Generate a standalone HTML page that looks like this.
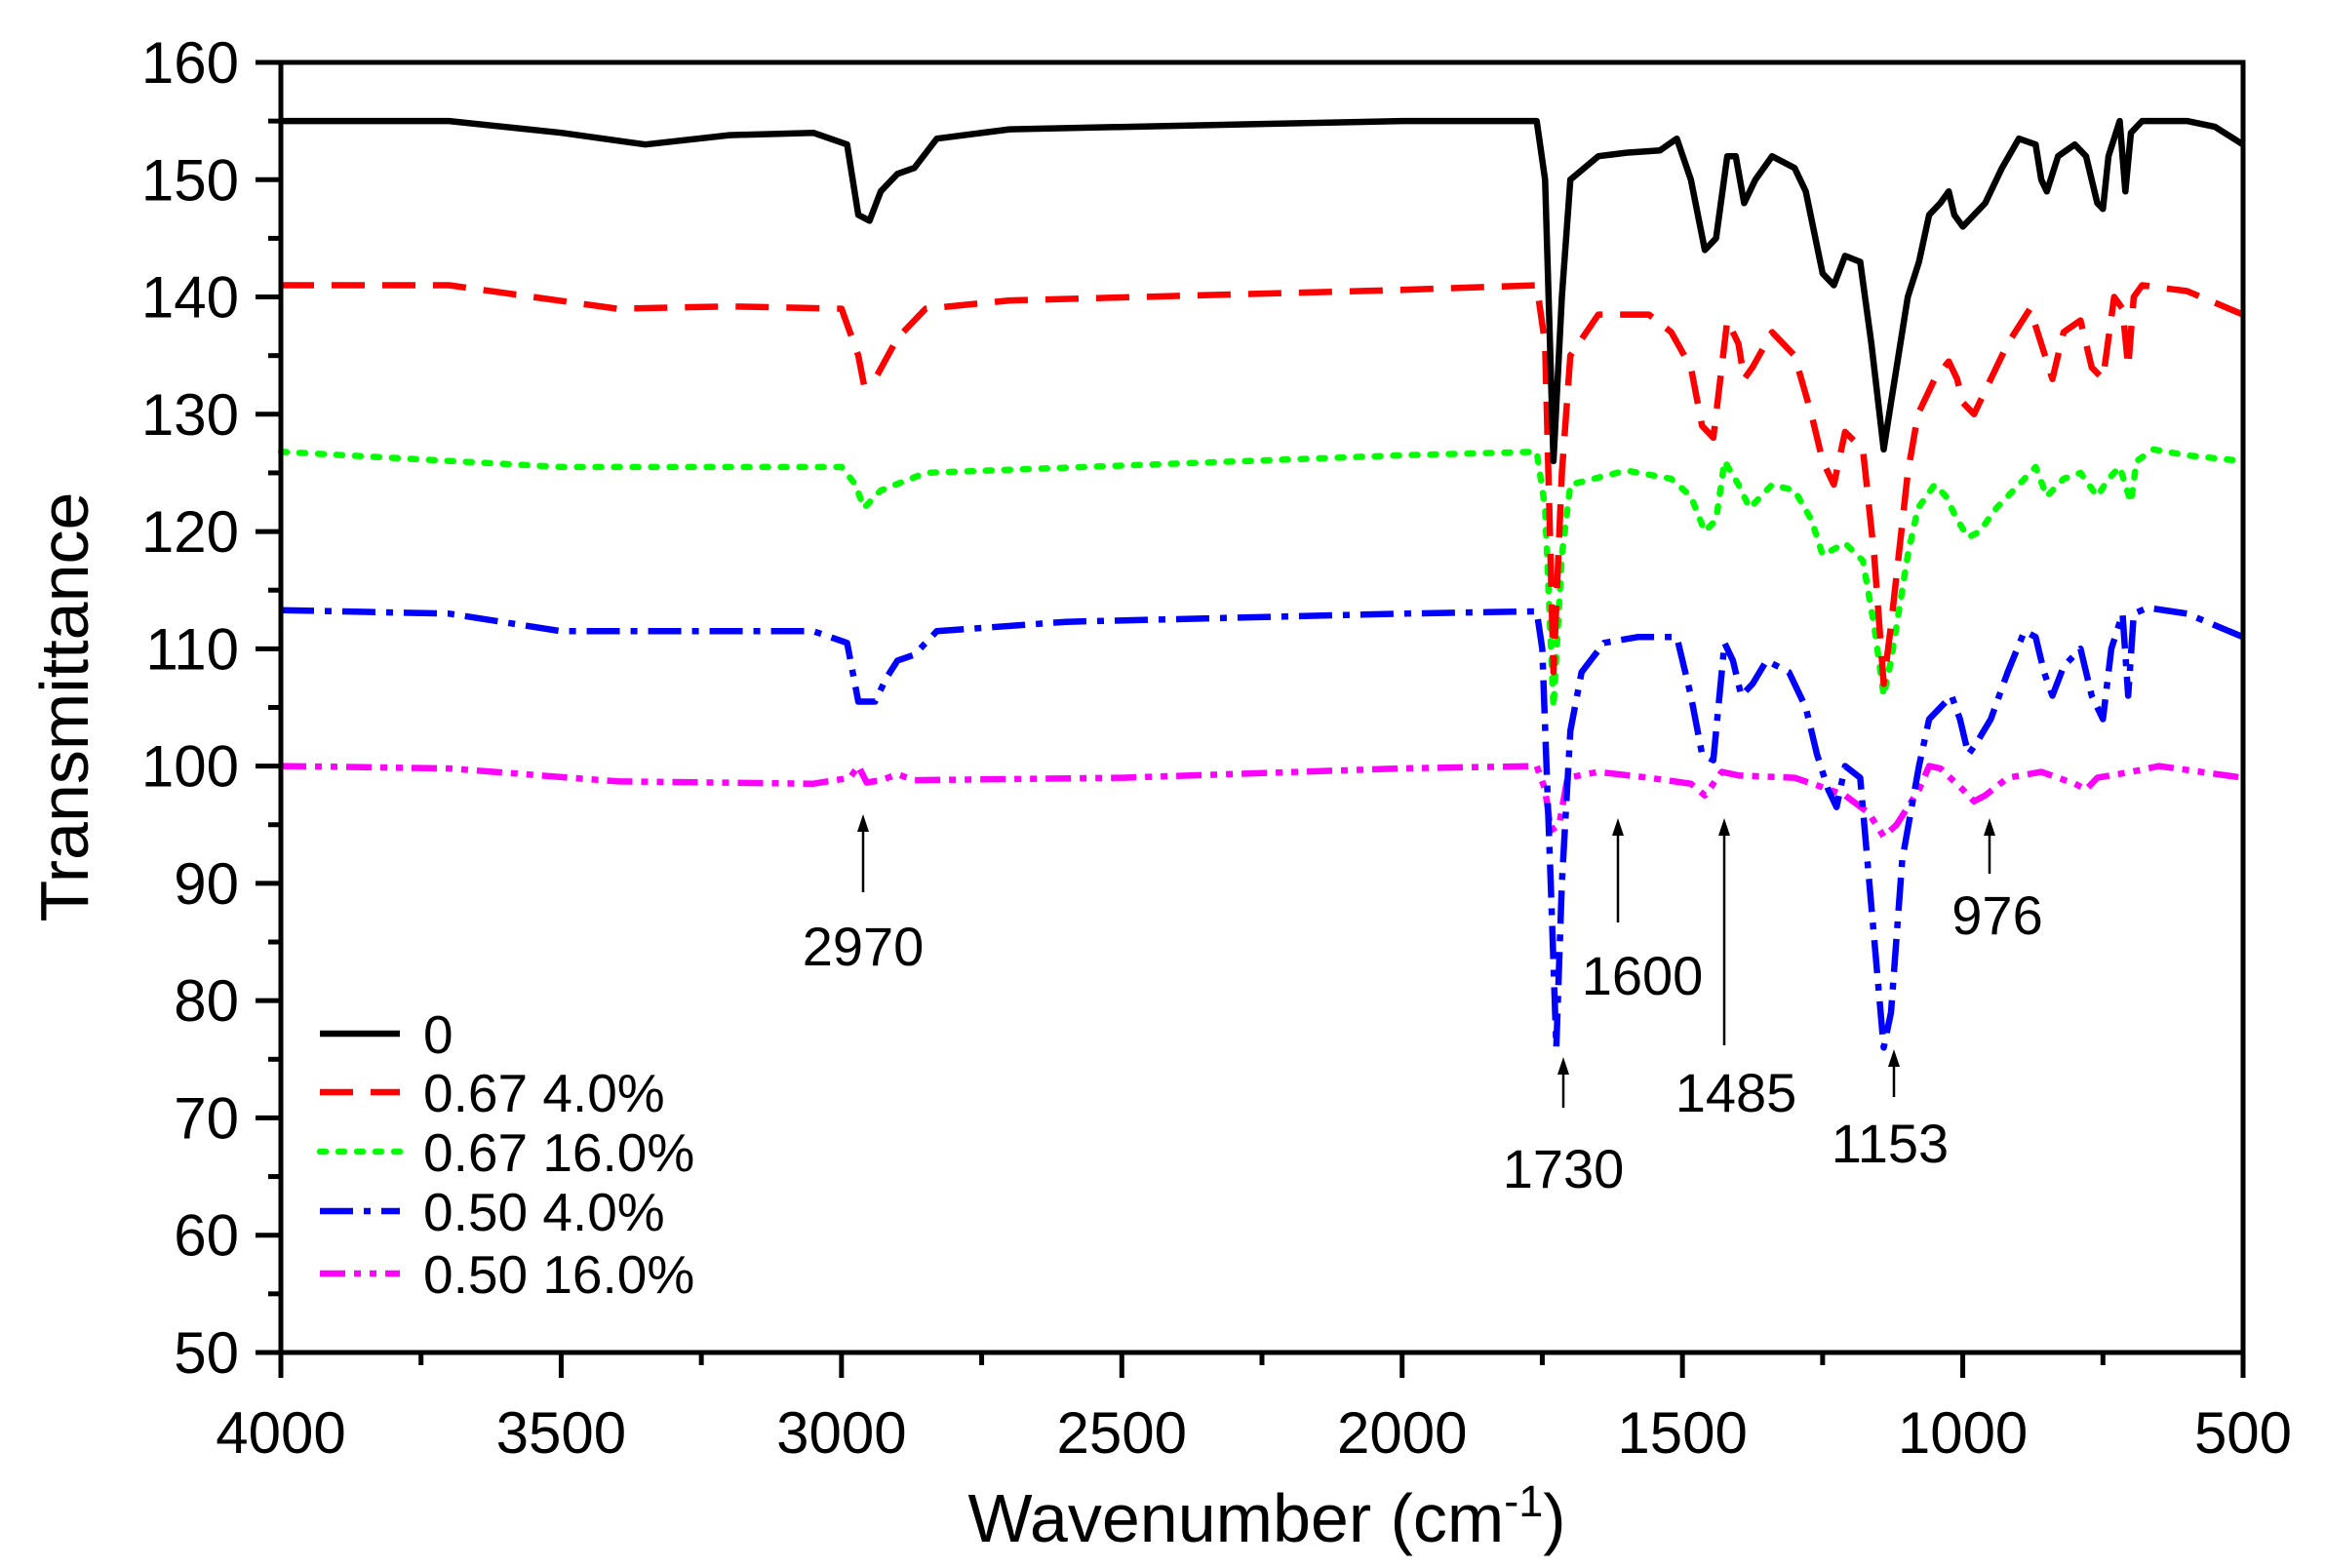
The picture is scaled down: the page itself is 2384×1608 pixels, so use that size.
<!DOCTYPE html>
<html><head><meta charset="utf-8"><style>
html,body{margin:0;padding:0;background:#fff;}
svg{display:block;font-family:"Liberation Sans",Arial,sans-serif;}
</style></head><body>
<svg id="s" width="2384" height="1608" viewBox="0 0 2384 1608" xmlns="http://www.w3.org/2000/svg">
<rect width="2384" height="1608" fill="#fff"/>
<g id="curves" fill="none" stroke-width="6.5" stroke-linejoin="round"></g>
<rect x="288" y="64" width="2012" height="1323" fill="none" stroke="#000" stroke-width="5"/>
<g id="ticks" stroke="#000" stroke-width="5"></g>
<g id="labels" font-size="60" fill="#000"></g>
<text x="90" y="725" font-size="70" transform="rotate(-90 90 725)" text-anchor="middle">Transmittance</text>
<text x="1299" y="1581" font-size="70" text-anchor="middle">Wavenumber (cm<tspan dy="-26" font-size="45">-1</tspan><tspan dy="26">)</tspan></text>
<g id="legend" font-size="55"></g>
<g id="ann" font-size="56" text-anchor="middle" stroke="#000" stroke-width="2.5"></g>
</svg>
<script>
var NS="http://www.w3.org/2000/svg";
function X(w){return 288+(4000-w)*2012/3500;}
function Y(v){return 64+(160-v)*12.027;}
function el(t,a,p,txt){var e=document.createElementNS(NS,t);for(var k in a)e.setAttribute(k,a[k]);if(txt!==undefined)e.textContent=txt;p.appendChild(e);return e;}
function parse(s){return s.trim().split(/\s*,\s*/).map(function(p){var q=p.split(':');var w=+q[0];if(w<1200&&w>1080)w-=12;return [w,+q[1]];});}
var S=[
["#000","none","4000:155,3700:155,3500:154,3350:153,3200:153.8,3050:154,2990:153,2970:147,2950:146.5,2930:149,2900:150.5,2870:151,2830:153.5,2700:154.3,2000:155,1760:155,1745:150,1730:126,1715:140,1700:150,1650:152,1600:152.3,1540:152.5,1510:153.5,1485:150,1460:144,1440:145,1420:152,1405:152,1390:148,1370:150,1340:152,1300:151,1280:149,1250:142,1230:141,1210:143.5,1195:143,1175:136,1153:127,1140:131,1110:140,1090:143,1060:147,1040:148,1025:149,1015:147,1000:146,980:147,960:148,930:151,900:153.5,870:153,860:150,850:149,830:152,800:153,780:152,760:148,750:147.5,740:152,720:155,710:149,700:154,680:155,600:155,550:154.5,500:153"],
["#f00","34 18","4000:141,3700:141,3400:139,3200:139.2,3000:139,2970:135,2960:132.5,2940:133,2900:136.5,2850:139,2700:139.7,2000:140.6,1760:141,1745:136,1730:108,1715:125,1700:135,1650:138.5,1560:138.5,1520:137,1485:134,1465:129,1445:128,1420:138,1400:136,1390:133,1375:134,1340:137,1300:135,1270:130,1250:126,1230:124,1210:128.5,1190:127,1170:118,1153:107,1140:112,1110:125,1080:130,1050:133,1025:134.5,1010:133,1000:131,980:130,950:133,920:136,880:139,860:136,840:133,820:137,790:138,770:134,750:133,730:140,715:139,705:134,695:140,680:141,600:140.5,500:138.5"],
["#0f0","6 13","4000:126.8,3500:125.5,3000:125.5,2975:124,2960:122,2930:123.5,2850:125,2000:126.5,1760:126.8,1745:122,1730:105,1715:118,1700:124,1600:125.2,1520:124.5,1485:123,1460:120,1440:121,1425:126,1400:124,1380:122,1340:124,1300:123.5,1270:121,1250:118,1230:118.5,1210:119,1190:117.5,1170:112,1153:106,1140:109,1110:118,1080:122,1050:124,1030:123,1010:121,990:119.5,970:120,940:122,900:124,870:125.5,850:123,820:124.5,790:125,760:123,740:124.5,720:125.5,700:122.5,690:126,660:127,600:126.5,500:126"],
["#00f","34 11 7 11","4000:113.3,3700:113,3500:111.5,3200:111.5,3050:111.5,2990:110.5,2970:105.5,2940:105.5,2920:107.5,2900:109,2870:109.5,2830:111.5,2600:112.3,2000:113,1760:113.2,1750:110,1735:90,1725:76,1715:90,1700:103,1680:108,1640:110.5,1580:111,1510:111,1485:106,1465:101,1445:100.5,1425:110.5,1410:109,1395:106,1375:107,1350:109,1310:108,1280:105,1260:101,1240:98,1225:96.5,1210:100,1195:99,1175:88,1153:76,1140:79,1120:92,1090:100,1060:104,1040:105,1020:106,1005:104,990:101,975:102,950:104,920:108,890:111.5,870:111,855:108,840:106,820:108.5,790:110,770:106,750:104,735:110,715:113,705:106,695:113,670:113.5,600:113,500:111"],
["#f0f","26 9 7 9 7 9","4000:100,3700:99.8,3400:98.7,3050:98.5,2985:99,2970:100,2955:98.6,2930:98.8,2900:99.3,2870:98.8,2500:99,2000:99.8,1760:100,1745:98,1735:94.5,1720:95,1705:99,1650:99.5,1560:99,1485:98.5,1460:97.5,1430:99.5,1400:99.2,1300:99,1250:98.2,1210:97.5,1180:96,1153:94,1130:95,1090:98,1060:100,1040:99.8,1000:98,980:97,960:97.5,920:99,860:99.5,800:98.5,780:98,760:99,700:99.5,650:100,500:99"]
];
var cg=document.getElementById('curves');
S.slice().reverse().forEach(function(s){
 var d=parse(s[2]).map(function(p,i){return (i?'L':'M')+X(p[0]).toFixed(1)+','+Y(p[1]).toFixed(1);}).join('');
 var a={d:d,stroke:s[0]}; if(s[1]!="none")a['stroke-dasharray']=s[1];
 if(s[0]=="#0f0")a['stroke-linecap']='round';
 el('path',a,cg);
});
var tg=document.getElementById('ticks'),lg=document.getElementById('labels');
for(var v=50;v<=160;v+=5){var y=Y(v),maj=v%10==0;el('line',{x1:288-(maj?26:13),y1:y,x2:288,y2:y},tg);
 if(maj)el('text',{x:245,y:y+21,'text-anchor':'end'},lg,v);}
for(var w=500;w<=4000;w+=250){var x=X(w),maj=w%500==0;el('line',{x1:x,y1:1387,x2:x,y2:1387+(maj?26:13)},tg);
 if(maj)el('text',{x:x,y:1490,'text-anchor':'middle'},lg,w);}
var L=document.getElementById('legend');
var names=["0","0.67 4.0%","0.67 16.0%","0.50 4.0%","0.50 16.0%"],ys=[1060,1120,1181,1242,1306];
S.forEach(function(s,i){var a={x1:328,y1:ys[i],x2:410,y2:ys[i],stroke:s[0],'stroke-width':6.5};if(s[1]!="none")a['stroke-dasharray']=s[1];if(s[0]=="#0f0")a['stroke-linecap']='round';
 el('line',a,L);el('text',{x:434,y:ys[i]+20},L,names[i]);});
var A=document.getElementById('ann');
[[885,915,835,"2970",885,990],[1659,946,839,"1600",1684,1020],[1768,1072,839,"1485",1780,1140],[2040,896,839,"976",2048,958],[1603,1136,1084,"1730",1603,1218],[1942,1125,1076,"1153",1938,1192]].forEach(function(a){
 el('line',{x1:a[0],y1:a[1],x2:a[0],y2:a[2]+14},A);
 el('path',{d:'M'+a[0]+','+a[2]+'l-6,18h12z',fill:'#000',stroke:'none'},A);
 el('text',{x:a[4],y:a[5],stroke:'none',fill:'#000'},A,a[3]);
});
</script>
</body></html>
